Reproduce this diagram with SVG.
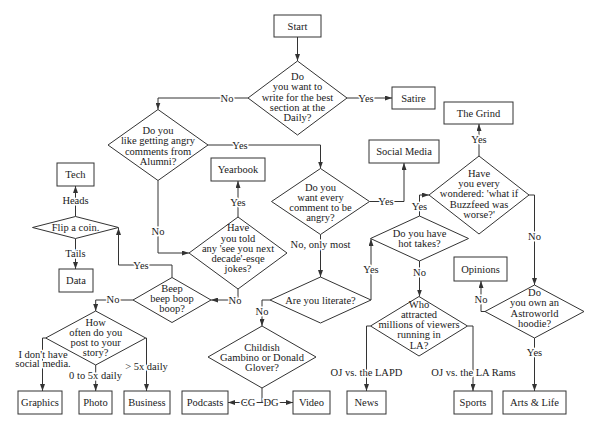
<svg xmlns="http://www.w3.org/2000/svg" width="600" height="430" viewBox="0 0 600 430">
<defs>
<style>
.b{fill:#fff;stroke:#333;stroke-width:1}
.t{font-family:"Liberation Serif",serif;font-size:10.5px;fill:#1a1a1a;text-anchor:middle;dominant-baseline:central}
.c path{fill:none;stroke:#333;stroke-width:1}
.l{font-family:"Liberation Serif",serif;font-size:10.5px;fill:#1a1a1a;text-anchor:middle;dominant-baseline:central;stroke:#fff;stroke-width:3;paint-order:stroke;stroke-linejoin:round}
</style>
<marker id="a" viewBox="0 0 7 5" refX="7" refY="2.5" markerWidth="7" markerHeight="5" markerUnits="userSpaceOnUse" orient="auto"><path d="M0,0 L7,2.5 L0,5 z" fill="#333"/></marker>
</defs>
<rect width="600" height="430" fill="#fff"/>
<g class="c">
<path d="M297.5,37 L297.5,61" marker-end="url(#a)"/>
<path d="M248,98 L158,98 L158,109.5" marker-end="url(#a)"/>
<path d="M347,98 L392,98" marker-end="url(#a)"/>
<path d="M208,145 L320.5,145 L320.5,168.5" marker-end="url(#a)"/>
<path d="M158,180.5 L158,253 L189,253" marker-end="url(#a)"/>
<path d="M369.5,201.5 L404,201.5 L404,163" marker-end="url(#a)"/>
<path d="M320.5,234.5 L320.5,277" marker-end="url(#a)"/>
<path d="M371,300 L371,239" marker-end="url(#a)"/>
<path d="M270,300 L262,300 L262,326" marker-end="url(#a)"/>
<path d="M419.5,216 L419.5,195 L429,195" marker-end="url(#a)"/>
<path d="M419.5,261 L419.5,296.5" marker-end="url(#a)"/>
<path d="M479,156 L479,124" marker-end="url(#a)"/>
<path d="M529,195 L534.5,195 L534.5,285" marker-end="url(#a)"/>
<path d="M485,311.5 L481,311.5 L481,281" marker-end="url(#a)"/>
<path d="M534.5,338 L534.5,391" marker-end="url(#a)"/>
<path d="M370.5,326 L366.5,326 L366.5,391" marker-end="url(#a)"/>
<path d="M467.5,326 L473,326 L473,391" marker-end="url(#a)"/>
<path d="M262,388 L262,402.5 L228,402.5" marker-end="url(#a)"/>
<path d="M262,402.5 L293,402.5" marker-end="url(#a)"/>
<path d="M238,217 L238,181" marker-end="url(#a)"/>
<path d="M238,289 L238,300 L211,300" marker-end="url(#a)"/>
<path d="M172,277.5 L172,265 L118.5,265 L118.5,228" marker-end="url(#a)"/>
<path d="M133,300 L95.7,300 L95.7,311" marker-end="url(#a)"/>
<path d="M75.5,216.5 L75.5,186" marker-end="url(#a)"/>
<path d="M75.5,238.5 L75.5,269" marker-end="url(#a)"/>
<path d="M45.7,338 L42.5,338 L42.5,391" marker-end="url(#a)"/>
<path d="M95.7,365 L95.7,391" marker-end="url(#a)"/>
<path d="M145.7,338 L146.5,338 L146.5,391" marker-end="url(#a)"/>
<text class="l" x="227" y="98">No</text>
<text class="l" x="366" y="98">Yes</text>
<text class="l" x="240" y="145">Yes</text>
<text class="l" x="158" y="231.7">No</text>
<text class="l" x="386" y="201.5">Yes</text>
<text class="l" x="320.5" y="244.3">No, only most</text>
<text class="l" x="371" y="269">Yes</text>
<text class="l" x="262" y="311.7">No</text>
<text class="l" x="419.5" y="206">Yes</text>
<text class="l" x="419.5" y="272.7">No</text>
<text class="l" x="479" y="139">Yes</text>
<text class="l" x="534.5" y="236.7">No</text>
<text class="l" x="481" y="299.3">No</text>
<text class="l" x="534.5" y="352.3">Yes</text>
<text class="l" x="366.5" y="372.3">OJ vs. the LAPD</text>
<text class="l" x="473.5" y="372.3">OJ vs. the LA Rams</text>
<text class="l" x="248" y="402.5">CG</text>
<text class="l" x="271" y="402.5">DG</text>
<text class="l" x="238" y="202.7">Yes</text>
<text class="l" x="235" y="300">No</text>
<text class="l" x="141" y="265">Yes</text>
<text class="l" x="113" y="299.5">No</text>
<text class="l" x="75.5" y="200">Heads</text>
<text class="l" x="75.5" y="253.3">Tails</text>
<text class="l" x="43" y="354">I don't have</text>
<text class="l" x="43" y="363.5">social media.</text>
<text class="l" x="95.5" y="375">0 to 5x daily</text>
<text class="l" x="146.5" y="366.7">&gt; 5x daily</text>
</g>
<g id="start"><rect class="b" x="274" y="15" width="47" height="22"/><text class="t" x="297.5" y="26">Start</text></g>
<g id="q-best"><polygon class="b" points="297.5,61 347,98 297.5,135 248,98"/>
<text class="t" x="297.5" y="76.5">Do</text><text class="t" x="297.5" y="86.8">you want to</text><text class="t" x="297.5" y="97">write for the best</text><text class="t" x="297.5" y="107.2">section at the</text><text class="t" x="297.5" y="117.5">Daily?</text></g>
<g id="satire"><rect class="b" x="392" y="87" width="43" height="22"/><text class="t" x="413.5" y="98">Satire</text></g>
<g id="q-alumni"><polygon class="b" points="158,109.5 208,145 158,180.5 108,145"/>
<text class="t" x="158" y="130.5">Do you</text><text class="t" x="158" y="140.8">like getting angry</text><text class="t" x="158" y="151">comments from</text><text class="t" x="158" y="161.2">Alumni?</text></g>
<g id="q-angry"><polygon class="b" points="320.5,168.5 369.5,201.5 320.5,234.5 271.5,201.5"/>
<text class="t" x="320.5" y="187">Do you</text><text class="t" x="320.5" y="197.3">want every</text><text class="t" x="320.5" y="207.5">comment to be</text><text class="t" x="320.5" y="217.7">angry?</text></g>
<g id="social"><rect class="b" x="369" y="140" width="70" height="23"/><text class="t" x="404" y="151.5">Social Media</text></g>
<g id="q-hot"><polygon class="b" points="419.5,216 468.5,238.5 419.5,261 370.5,238.5"/>
<text class="t" x="419.5" y="233.5">Do you have</text><text class="t" x="419.5" y="243.8">hot takes?</text></g>
<g id="q-buzz"><polygon class="b" points="479,156 529,195 479,234 429,195"/>
<text class="t" x="479" y="173.3">Have</text><text class="t" x="479" y="183.5">you every</text><text class="t" x="479" y="193.8">wondered: 'what if</text><text class="t" x="479" y="204">Buzzfeed was</text><text class="t" x="479" y="214.2">worse?'</text></g>
<g id="grind"><rect class="b" x="444" y="102" width="69" height="22"/><text class="t" x="478.5" y="113">The Grind</text></g>
<g id="q-astro"><polygon class="b" points="534.5,285 584,311.5 534.5,338 485,311.5"/>
<text class="t" x="534.5" y="292.7">Do</text><text class="t" x="534.5" y="302.8">you own an</text><text class="t" x="534.5" y="313">Astroworld</text><text class="t" x="534.5" y="323.2">hoodie?</text></g>
<g id="opinions"><rect class="b" x="454" y="257" width="53" height="24"/><text class="t" x="480.5" y="269">Opinions</text></g>
<g id="arts"><rect class="b" x="503" y="391" width="63" height="23"/><text class="t" x="534.5" y="402.5">Arts &amp; Life</text></g>
<g id="q-la"><polygon class="b" points="419,296.5 467.5,326 419,356 370.5,326"/>
<text class="t" x="419" y="304.5">Who</text><text class="t" x="419" y="314.6">attracted</text><text class="t" x="419" y="324.7">millions of viewers</text><text class="t" x="419" y="334.8">running in</text><text class="t" x="419" y="345">LA?</text></g>
<g id="news"><rect class="b" x="347" y="391" width="39" height="23"/><text class="t" x="366.5" y="402.5">News</text></g>
<g id="sports"><rect class="b" x="454" y="391" width="38" height="23"/><text class="t" x="473" y="402.5">Sports</text></g>
<g id="q-literate"><polygon class="b" points="320.5,277 371,300 320.5,323 270,300"/>
<text class="t" x="320.5" y="300">Are you literate?</text></g>
<g id="q-gambino"><polygon class="b" points="262,326 316,357 262,388 208,357"/>
<text class="t" x="262" y="347.3">Childish</text><text class="t" x="262" y="357.5">Gambino or Donald</text><text class="t" x="262" y="367.7">Glover?</text></g>
<g id="podcasts"><rect class="b" x="182" y="391" width="46" height="23"/><text class="t" x="205" y="402.5">Podcasts</text></g>
<g id="video"><rect class="b" x="293" y="391" width="37" height="23"/><text class="t" x="311.5" y="402.5">Video</text></g>
<g id="q-decade"><polygon class="b" points="238,217 287,253 238,289 189,253"/>
<text class="t" x="238" y="227.8">Have</text><text class="t" x="238" y="238">you told</text><text class="t" x="238" y="248.3">any 'see you next</text><text class="t" x="238" y="258.6">decade'-esqe</text><text class="t" x="238" y="268.9">jokes?</text></g>
<g id="yearbook"><rect class="b" x="211" y="158" width="54" height="23"/><text class="t" x="238" y="169.5">Yearbook</text></g>
<g id="q-beep"><polygon class="b" points="172,277.5 211,300 172,322.5 133,300"/>
<text class="t" x="172" y="288">Beep</text><text class="t" x="172" y="298.3">beep boop</text><text class="t" x="172" y="308.5">boop?</text></g>
<g id="q-coin"><polygon class="b" points="75.5,216.5 118.5,227.5 75.5,238.5 32.5,227.5"/>
<text class="t" x="75.5" y="227.8">Flip a coin.</text></g>
<g id="tech"><rect class="b" x="57" y="163" width="37" height="23"/><text class="t" x="75.5" y="174.5">Tech</text></g>
<g id="data"><rect class="b" x="59" y="269" width="34" height="23"/><text class="t" x="76" y="280.5">Data</text></g>
<g id="q-story"><polygon class="b" points="95.7,311 145.7,338 95.7,365 45.7,338"/>
<text class="t" x="95.7" y="322.3">How</text><text class="t" x="95.7" y="332.3">often do you</text><text class="t" x="95.7" y="342.3">post to your</text><text class="t" x="95.7" y="352.3">story?</text></g>
<g id="graphics"><rect class="b" x="18" y="391" width="44" height="23"/><text class="t" x="40" y="402.5">Graphics</text></g>
<g id="photo"><rect class="b" x="79" y="391" width="33" height="23"/><text class="t" x="95.5" y="402.5">Photo</text></g>
<g id="business"><rect class="b" x="124" y="391" width="46" height="23"/><text class="t" x="147" y="402.5">Business</text></g>
</svg>
